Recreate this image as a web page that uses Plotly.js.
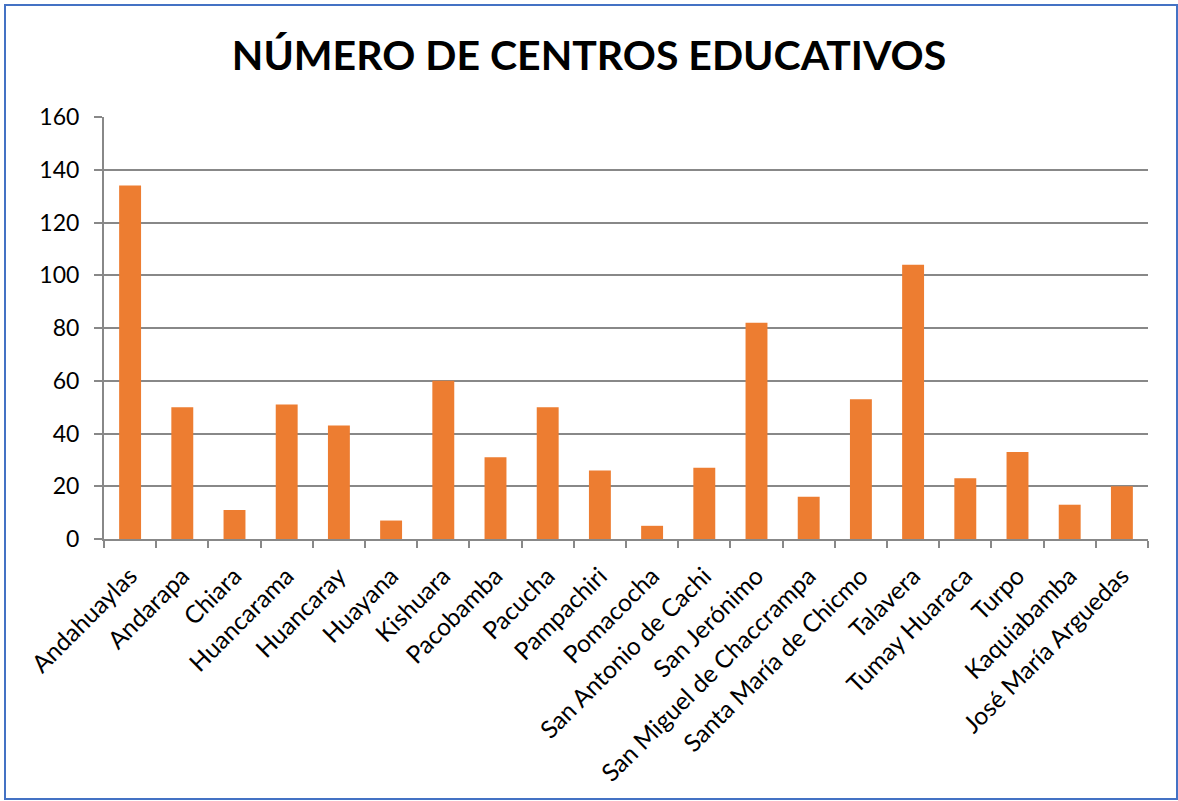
<!DOCTYPE html>
<html>
<head>
<meta charset="utf-8">
<script src="https://cdn.plot.ly/plotly-3.0.1.min.js"></script>
<style>
html,body{margin:0;padding:0;background:#fff;}
#chart{width:1178px;height:801px;}
</style>
</head>
<body>
<div id="chart"></div>
<script>
const categories = ["Andahuaylas","Andarapa","Chiara","Huancarama","Huancaray","Huayana","Kishuara","Pacobamba","Pacucha","Pampachiri","Pomacocha","San Antonio de Cachi","San Jerónimo","San Miguel de Chaccrampa","Santa María de Chicmo","Talavera","Tumay Huaraca","Turpo","Kaquiabamba","José María Arguedas"];
const centros = [134,50,11,51,43,7,60,31,50,26,5,27,82,16,53,104,23,33,13,20];
const yTicks = [0,20,40,60,80,100,120,140,160];
const chartTitle = "NÚMERO DE CENTROS EDUCATIVOS";

const W = 1178, H = 801;
const mL = 104, mR = 30, mT = 117, mB = 262;
const pw = W - mL - mR, ph = H - mT - mB;
const px = v => (v - mL) / pw;
const py = v => (H - mB - v) / ph;

const trace = {
  type: 'bar',
  x: categories,
  y: centros,
  marker: {color: '#ED7D31'},
  hoverinfo: 'x+y'
};

const layout = {
  width: W, height: H,
  margin: {l: mL, r: mR, t: mT, b: mB, pad: 0},
  paper_bgcolor: '#ffffff',
  plot_bgcolor: '#ffffff',
  showlegend: false,
  bargap: 0.58,
  font: {family: 'Lato, "Open Sans", sans-serif', color: '#000000'},
  title: {
    text: '<b>' + chartTitle + '</b>',
    font: {family: 'Lato, "Open Sans", sans-serif', size: 41, color: '#000000'},
    x: 0.5, xref: 'container', xanchor: 'center',
    y: 1 - 56 / H, yref: 'container', yanchor: 'middle'
  },
  xaxis: {
    type: 'category',
    tickangle: -45,
    tickfont: {size: 24.5, color: '#000000'},
    ticklabelstandoff: 11,
    showline: true, linecolor: '#888888', linewidth: 2,
    ticks: 'outside', tickson: 'boundaries', ticklen: 7, tickwidth: 2, tickcolor: '#888888',
    showgrid: false, zeroline: false,
    automargin: false
  },
  yaxis: {
    range: [0, 160],
    tickvals: yTicks,
    tickfont: {size: 23, color: '#000000'},
    ticklabelstandoff: 10,
    showline: true, linecolor: '#888888', linewidth: 2,
    ticks: 'outside', ticklen: 8, tickwidth: 2, tickcolor: '#888888',
    showgrid: true, gridcolor: '#888888', gridwidth: 2,
    zeroline: false,
    automargin: false
  },
  shapes: [{
    type: 'rect', xref: 'paper', yref: 'paper',
    x0: px(5), x1: px(1177), y0: py(799), y1: py(5),
    line: {color: '#4472C4', width: 2},
    fillcolor: 'rgba(0,0,0,0)',
    layer: 'below'
  }]
};

Plotly.newPlot('chart', [trace], layout, {displayModeBar: false, staticPlot: true});
</script>
</body>
</html>
